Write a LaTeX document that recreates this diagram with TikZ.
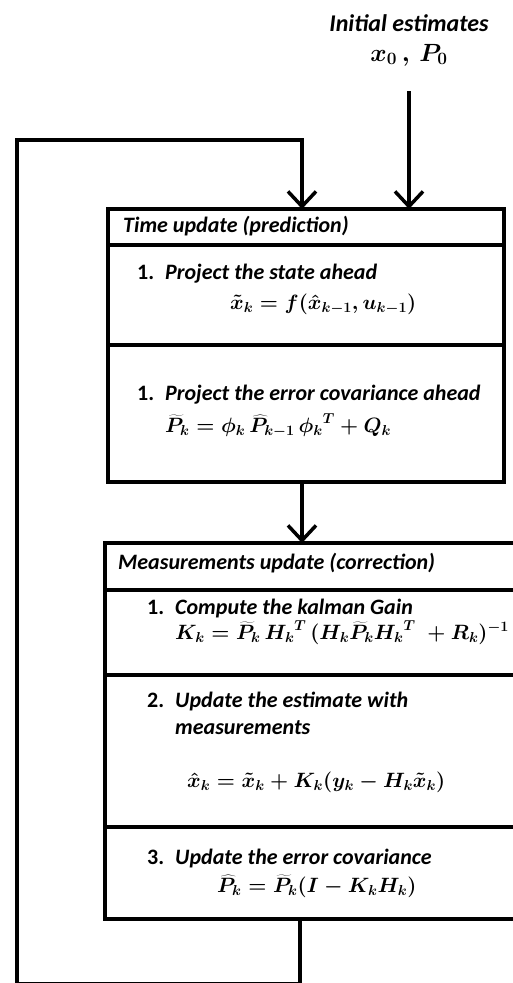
\documentclass[tikz,border=0pt]{standalone}
\usepackage{fontspec}
\setmainfont{Carlito}
\usetikzlibrary{calc}
\usetikzlibrary{arrows.meta}

\newcommand\passo[1]{\makebox[28pt][l]{\upshape #1}}

\tikzset{
	caixa/.style={draw, line width=4pt, inner sep=0pt, outer sep=0pt, anchor=north west},
	texto/.style={inner sep=0pt, anchor=mid west, font=\fontsize{22}{26}\selectfont\bfseries\itshape\boldmath},
	formula/.style={inner sep=0pt, anchor=mid west, font=\fontsize{20}{24}\selectfont\boldmath},
	fluxo/.style={line width=3.5pt, -{Straight Barb[length=15pt,width=28pt]}}
}

\begin{document}
\begin{tikzpicture}[x=1pt,y=-1pt]
	
	\useasboundingbox (0,0) rectangle (512,983);
	
	\coordinate (ini0) at (409,91);
	\coordinate (meio) at (302,0);
	\coordinate (ret) at (300,984);
	\coordinate (esq) at (17,140);
	\coordinate (fb) at (302,140);
	
	% Estimativas iniciais
	\node [texto, anchor=center, align=center, font=\fontsize{24}{30}\selectfont\bfseries\itshape\boldmath] (ini) at (409,40) {Initial estimates\\$x_0\,,\,P_0$};
	
	% A caixa da predicao
	\node [caixa, minimum width=396pt, minimum height=36pt] (tu) at (108,209) {};
	\node [caixa, minimum width=396pt, minimum height=100pt] (tu1) at (tu.south west) {};
	\node [caixa, minimum width=396pt, minimum height=137pt] (tu2) at (tu1.south west) {};
	
	% A caixa da correcao
	\node [caixa, minimum width=411pt, minimum height=47pt] (mu) at (105,543) {};
	\node [caixa, minimum width=411pt, minimum height=85pt] (mu1) at (mu.south west) {};
	\node [caixa, minimum width=411pt, minimum height=152pt] (mu2) at (mu1.south west) {};
	\node [caixa, minimum width=411pt, minimum height=92pt] (mu3) at (mu2.south west) {};
	
	% Textos da predicao
	\node [texto] (tuh) at (123,230) {Time update (prediction)};
	\node [texto] (tut1) at (137,277) {\passo{1.}Project the state ahead};
	\node [formula] (tuf1) at (230,307) {$\tilde{x}_k = f(\hat{x}_{k-1}, u_{k-1})$};
	\node [texto] (tut2) at (137,398) {\passo{1.}Project the error covariance ahead};
	\node [formula] (tuf2) at (165,430) {$\widetilde{P}_k = \phi_k\,\widehat{P}_{k-1}\,{\phi_k}^T + Q_k$};
	
	% Textos da correcao
	\node [texto] (muh) at (118,567) {Measurements update (correction)};
	\node [texto] (mut1) at (147,612) {\passo{1.}Compute the kalman Gain};
	\node [formula] (muf1) at (175,637) {$K_k = \widetilde{P}_k\,{H_k}^T\,(H_k\widetilde{P}_k{H_k}^T\; + R_k)^{-1}$};
	\node [texto] (mut2) at (147,705) {\passo{2.}Update the estimate with};
	\node [texto] (mut2b) at (175,732) {measurements};
	\node [formula] (muf2) at (187,785) {$\hat{x}_k = \tilde{x}_k + K_k(y_k - H_k\tilde{x}_k)$};
	\node [texto] (mut3) at (147,862) {\passo{3.}Update the error covariance};
	\node [formula] (muf3) at (217,890) {$\widehat{P}_k = \widetilde{P}_k(I - K_kH_k)$};
	
	% A flecha das estimativas iniciais
	\draw [fluxo] (ini0) -- (ini0 |- tu.north);
	
	% A flecha entre as caixas
	\draw [fluxo] (meio |- tu2.south) -- (meio |- mu.north);
	
	% O laco de realimentacao
	\draw [fluxo] (ret |- mu3.south) -- (ret) -| (esq) -- (fb) -- (fb |- tu.north);
	
\end{tikzpicture}
\end{document}
